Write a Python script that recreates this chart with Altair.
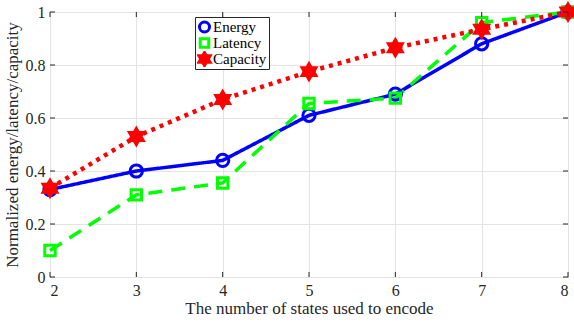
import altair as alt
import pandas as pd

states = [2, 3, 4, 5, 6, 7, 8]
energy = [0.33, 0.40, 0.44, 0.61, 0.69, 0.88, 1.00]
latency = [0.10, 0.31, 0.355, 0.655, 0.675, 0.96, 1.00]
capacity = [0.335, 0.53, 0.67, 0.775, 0.865, 0.935, 1.00]
series = ["Energy", "Latency", "Capacity"]
x_ticks = [2, 3, 4, 5, 6, 7, 8]
y_ticks = [0, 0.2, 0.4, 0.6, 0.8, 1.0]

FONT = "Liberation Serif"
HEX = ("M0,-1.3 L0.375,-0.65 L1.126,-0.65 L0.75,0 L1.126,0.65 L0.375,0.65 L0,1.3 "
       "L-0.375,0.65 L-1.126,0.65 L-0.75,0 L-1.126,-0.65 L-0.375,-0.65 Z")
SQ = "M-0.85,-0.85 L0.85,-0.85 L0.85,0.85 L-0.85,0.85 Z"

rows = []
for name, vals in zip(series, [energy, latency, capacity]):
    for s, v in zip(states, vals):
        rows.append({"states": s, "value": v, "series": name})
df = pd.DataFrame(rows)

xs = alt.Scale(domain=[2, 8], nice=False)
ys = alt.Scale(domain=[0, 1], nice=False)

xaxis = alt.Axis(values=x_ticks, title="The number of states used to encode", format="d",
                 grid=True, gridColor="#e3e3e3", tickSize=0, domain=False,
                 labelFont=FONT, labelFontSize=16, labelColor="#262626", labelPadding=5,
                 titleFont=FONT, titleFontSize=17, titleFontWeight="normal",
                 titleColor="#262626", titlePadding=2)
yaxis = alt.Axis(values=y_ticks, title="Normalized energy/latency/capacity", format=".1~f",
                 grid=True, gridColor="#e3e3e3", tickSize=0, domain=False,
                 labelFont=FONT, labelFontSize=16, labelColor="#262626", labelPadding=5,
                 titleFont=FONT, titleFontSize=17, titleFontWeight="normal",
                 titleColor="#262626", titlePadding=4)

colors = alt.Scale(domain=series, range=["#0000ff", "#00ff00", "#ff0000"])
color_list = ["#0000ff", "#00ff00", "#ff0000"]

base = alt.Chart(df)

def line(name, dash, width):
    return base.transform_filter(alt.datum.series == name).mark_line(
        strokeWidth=width, strokeDash=dash, color=color_list[series.index(name)]
    ).encode(x=alt.X("states:Q", scale=xs, axis=xaxis), y=alt.Y("value:Q", scale=ys, axis=yaxis))

l_energy = line("Energy", [1, 0], 3.5)
l_lat = line("Latency", [14, 9], 3.5)
l_cap = line("Capacity", [4, 5], 4.5)

points = base.mark_point(filled=False, strokeWidth=3, opacity=1, size=150).encode(
    x=alt.X("states:Q", scale=xs),
    y=alt.Y("value:Q", scale=ys),
    color=alt.Color("series:N", scale=colors, sort=series, title=None),
    shape=alt.Shape("series:N", scale=alt.Scale(domain=series, range=["circle", SQ, HEX]),
                    sort=series, title=None),
    fill=alt.Fill("series:N", scale=alt.Scale(domain=series, range=["transparent", "transparent", "#ff0000"]),
                  sort=series, title=None),
)

# inward tick marks (MATLAB style)
xt = pd.DataFrame({"t": x_ticks})
yt = pd.DataFrame({"t": y_ticks})
tick_style = dict(color="#262626", strokeWidth=1)
xb = alt.Chart(xt).mark_rule(**tick_style).encode(x=alt.X("t:Q", scale=xs), y=alt.value(265), y2=alt.value(260))
xtp = alt.Chart(xt).mark_rule(**tick_style).encode(x=alt.X("t:Q", scale=xs), y=alt.value(0), y2=alt.value(5))
yl = alt.Chart(yt).mark_rule(**tick_style).encode(y=alt.Y("t:Q", scale=ys), x=alt.value(0), x2=alt.value(5))
yr = alt.Chart(yt).mark_rule(**tick_style).encode(y=alt.Y("t:Q", scale=ys), x=alt.value(518), x2=alt.value(513))

chart = alt.layer(l_energy, l_lat, l_cap, points, xb, xtp, yl, yr).properties(
    width=518, height=265,
    autosize=alt.AutoSizeParams(type="none"),
    padding={"left": 50, "top": 12, "right": 6, "bottom": 47},
).configure_view(stroke="#262626", strokeWidth=1).configure_legend(
    orient="none", legendX=145, legendY=5,
    strokeColor="#262626", fillColor="white", padding=2, rowPadding=0,
    labelFont=FONT, labelFontSize=15, labelColor="black", symbolSize=100,
    symbolStrokeWidth=3, labelOffset=1, cornerRadius=0, labelLimit=80,
    clipHeight=16,
)

chart.save("out.html", embed_options={"renderer": "svg", "actions": False})
